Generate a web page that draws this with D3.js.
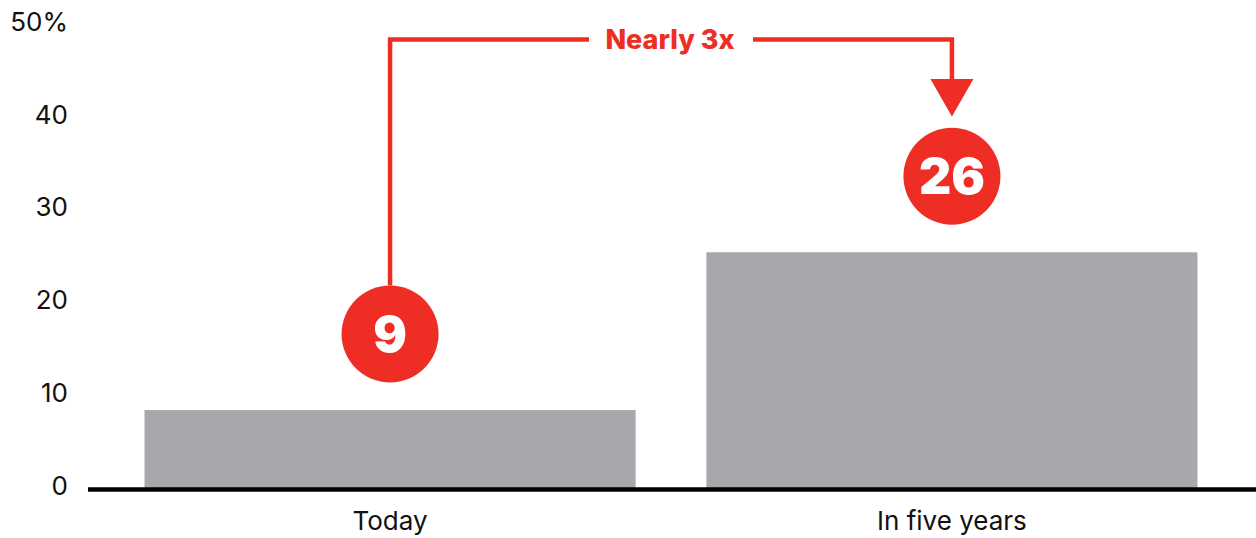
<!DOCTYPE html>
<html>
<head>
<meta charset="utf-8">
<script src="https://cdn.jsdelivr.net/npm/d3@7"></script>
<style>
  body { margin: 0; background: #fff; }
  svg { display: block; font-family: Inter, "Noto Sans", sans-serif; }
</style>
</head>
<body>
<div id="chart"></div>
<script>
const categories = ["Today", "In five years"];
const shares = [8.4, 25.4];
const callouts = ["9", "26"];
const yTicks = [0, 10, 20, 30, 40, 50];
const note = "Nearly 3x";

const width = 1256, height = 538;
const red = "#ee2e24", grey = "#a7a8ab";

const svg = d3.select("#chart")
    .append("svg")
    .attr("width", width)
    .attr("height", height);

const x = d3.scaleBand()
    .domain(categories)
    .range([108, 1234])
    .paddingInner(0.126)
    .paddingOuter(0.065);

const y = d3.scaleLinear()
    .domain([0, 50])
    .range([488, 24]);

// y axis labels only
const yAxis = svg.append("g")
    .attr("transform", "translate(68, -2)")
    .call(d3.axisLeft(y).tickValues(yTicks).tickSize(0).tickPadding(0)
        .tickFormat(d => d === 50 ? d + "%" : d));
yAxis.select(".domain").remove();
yAxis.selectAll("text")
    .attr("font-family", "Inter, 'Noto Sans', sans-serif")
    .style("font-size", "26px")
    .attr("fill", "#111");

// bars
svg.selectAll(".bar")
    .data(categories)
    .join("rect")
    .attr("class", "bar")
    .attr("x", d => x(d))
    .attr("width", x.bandwidth())
    .attr("y", (d, i) => y(shares[i]))
    .attr("height", (d, i) => y(0) - y(shares[i]))
    .attr("fill", grey);

// baseline
svg.append("line")
    .attr("x1", 88)
    .attr("x2", width)
    .attr("y1", y(0) + 1.5)
    .attr("y2", y(0) + 1.5)
    .attr("stroke", "#000")
    .attr("stroke-width", 4.5);

// x axis labels
const xAxis = svg.append("g")
    .attr("transform", `translate(0, ${y(0)})`)
    .call(d3.axisBottom(x).tickSize(0).tickPadding(24));
xAxis.select(".domain").remove();
xAxis.selectAll("text")
    .attr("font-family", "Inter, 'Noto Sans', sans-serif")
    .style("font-size", "26px")
    .attr("fill", "#111");

// callout circles
const cx = d => x(d) + x.bandwidth() / 2;
const cy = i => y(shares[i]) - 76;

svg.selectAll(".callout")
    .data(categories)
    .join("circle")
    .attr("class", "callout")
    .attr("cx", cx)
    .attr("cy", (d, i) => cy(i))
    .attr("r", 48.5)
    .attr("fill", red);

svg.selectAll(".callout-text")
    .data(categories)
    .join("text")
    .attr("class", "callout-text")
    .attr("x", cx)
    .attr("y", (d, i) => cy(i))
    .attr("dy", "0.36em")
    .attr("text-anchor", "middle")
    .attr("fill", "#fff")
    .style("font-size", "50px")
    .style("font-weight", 900)
    .text((d, i) => callouts[i]);

// connector "Nearly 3x"
const topY = 39.5;
const x0 = cx(categories[0]), x1 = cx(categories[1]);
const noteX = (x0 + x1) / 2 - 1;

svg.append("path")
    .attr("d", `M${x0},${cy(0) - 48.5} V${topY} H${noteX - 81}`)
    .attr("fill", "none")
    .attr("stroke", red)
    .attr("stroke-width", 4.5);

svg.append("path")
    .attr("d", `M${noteX + 83},${topY} H${x1} V${80}`)
    .attr("fill", "none")
    .attr("stroke", red)
    .attr("stroke-width", 4.5);

svg.append("path")
    .attr("d", `M${x1 - 21.5},79 L${x1 + 21.5},79 L${x1},116.5 Z`)
    .attr("fill", red);

svg.append("text")
    .attr("x", noteX)
    .attr("y", topY)
    .attr("dy", "0.36em")
    .attr("text-anchor", "middle")
    .attr("fill", red)
    .style("font-size", "27px")
    .style("font-weight", 800)
    .text(note);
</script>
</body>
</html>
